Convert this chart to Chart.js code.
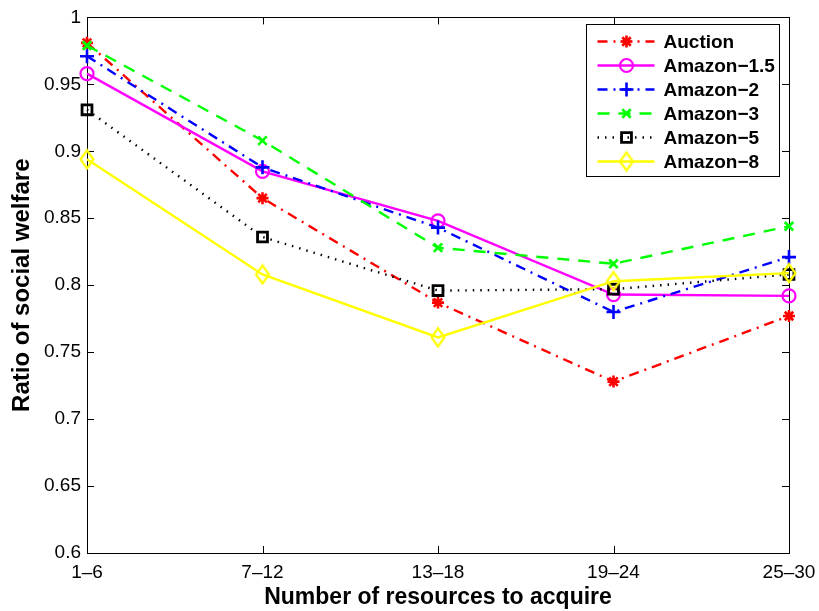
<!DOCTYPE html>
<html>
<head>
<meta charset="utf-8">
<script src="https://cdn.jsdelivr.net/npm/chart.js@4.4.1/dist/chart.umd.min.js"></script>
<style>
  html, body { margin: 0; padding: 0; background: #fff; }
  #wrap { width: 819px; height: 611px; }
</style>
</head>
<body>
<div id="wrap"><canvas id="c" width="819" height="611"></canvas></div>
<script>
// ---- data ----
const categories = ['1\u20136', '7\u201312', '13\u201318', '19\u201324', '25\u201330'];
const seriesNames = ['Auction', 'Amazon\u22121.5', 'Amazon\u22122', 'Amazon\u22123', 'Amazon\u22125', 'Amazon\u22128'];
const auction    = [0.981, 0.865, 0.787, 0.728, 0.777];
const amazon15   = [0.958, 0.885, 0.848, 0.793, 0.792];
const amazon2    = [0.971, 0.888, 0.843, 0.780, 0.821];
const amazon3    = [0.979, 0.908, 0.828, 0.816, 0.844];
const amazon5    = [0.931, 0.836, 0.796, 0.797, 0.808];
const amazon8    = [0.894, 0.808, 0.761, 0.803, 0.809];
const yMin = 0.6, yMax = 1.0, yStep = 0.05;
const xTitle = 'Number of resources to acquire';
const yTitle = 'Ratio of social welfare';

// ---- styles ----
const FONT = "'Liberation Sans', Arial, Helvetica, sans-serif";

// MATLAB-like narrow diamond marker
function makeDiamond(color) {
  const c = document.createElement('canvas');
  c.width = 18; c.height = 22;
  const g = c.getContext('2d');
  g.strokeStyle = color; g.lineWidth = 2.2;
  g.beginPath();
  g.moveTo(9, 2); g.lineTo(15.5, 11); g.lineTo(9, 20); g.lineTo(2.5, 11); g.closePath();
  g.stroke();
  return c;
}

const styles = [
  { color: '#ff0000', dash: [10, 6, 2, 6], point: 'star',     radius: 6,   pw: 2.6 },
  { color: '#ff00ff', dash: [],            point: 'circle',   radius: 6.5, pw: 2.2 },
  { color: '#0000ff', dash: [10, 6, 2, 6], point: 'cross',    radius: 7,   pw: 2.6 },
  { color: '#00ff00', dash: [12, 9],       point: 'crossRot', radius: 6,   pw: 2.6 },
  { color: '#000000', dash: [1.5, 6],      point: 'rect',     radius: 7,   pw: 2.8 },
  { color: '#ffff00', dash: [],            point: makeDiamond('#ffff00'), radius: 9, pw: 2.2 }
];
const allData = [auction, amazon15, amazon2, amazon3, amazon5, amazon8];

const datasets = allData.map((d, i) => ({
  label: seriesNames[i],
  data: d,
  borderColor: styles[i].color,
  backgroundColor: 'rgba(0,0,0,0)',
  borderWidth: 2.4,
  borderDash: styles[i].dash,
  pointStyle: styles[i].point,
  pointRadius: styles[i].radius,
  pointBorderWidth: styles[i].pw,
  pointBorderColor: styles[i].color,
  pointBackgroundColor: 'rgba(0,0,0,0)',
  tension: 0,
  clip: false,
  order: allData.length - 1 - i
}));

// box + inward ticks (MATLAB style)
const boxPlugin = {
  id: 'box',
  beforeDatasetsDraw(chart) {
    const { ctx, chartArea: a, scales } = chart;
    ctx.save();
    ctx.strokeStyle = '#000';
    ctx.lineWidth = 1;
    ctx.setLineDash([]);
    ctx.strokeRect(Math.round(a.left) + 0.5, Math.round(a.top) + 0.5,
                   Math.round(a.right - a.left), Math.round(a.bottom - a.top));
    const L = 7;
    ctx.beginPath();
    scales.y.ticks.forEach((t, i) => {
      const y = Math.round(scales.y.getPixelForTick(i)) + 0.5;
      ctx.moveTo(a.left, y); ctx.lineTo(a.left + L, y);
      ctx.moveTo(a.right, y); ctx.lineTo(a.right - L, y);
    });
    scales.x.ticks.forEach((t, i) => {
      const x = Math.round(scales.x.getPixelForTick(i)) + 0.5;
      ctx.moveTo(x, a.bottom); ctx.lineTo(x, a.bottom - L);
      ctx.moveTo(x, a.top); ctx.lineTo(x, a.top + L);
    });
    ctx.stroke();
    ctx.restore();
  }
};

// legend drawn inside the plot, top-right, with line samples + markers
const legendPlugin = {
  id: 'insideLegend',
  afterDraw(chart) {
    const { ctx, chartArea: a } = chart;
    const w = 193, rowH = 24;
    const h = 152;
    const x0 = Math.round(a.right - 10 - w) + 0.5;
    const y0 = Math.round(a.top + 7) + 0.5;
    ctx.save();
    ctx.fillStyle = '#fff';
    ctx.fillRect(x0, y0, w, h);
    ctx.strokeStyle = '#000';
    ctx.lineWidth = 1;
    ctx.setLineDash([]);
    ctx.strokeRect(x0, y0, w, h);
    chart.data.datasets.forEach((ds, i) => {
      const cy = y0 + 17 + i * rowH;
      ctx.save();
      ctx.strokeStyle = ds.borderColor;
      ctx.lineWidth = ds.borderWidth;
      ctx.setLineDash(ds.borderDash);
      ctx.beginPath();
      ctx.moveTo(x0 + 11, cy);
      ctx.lineTo(x0 + 68, cy);
      ctx.stroke();
      ctx.setLineDash([]);
      ctx.lineWidth = ds.pointBorderWidth;
      ctx.strokeStyle = ds.pointBorderColor;
      ctx.fillStyle = ds.pointBackgroundColor;
      Chart.helpers.drawPoint(ctx, { pointStyle: ds.pointStyle, radius: ds.pointRadius, borderWidth: ds.pointBorderWidth, rotation: 0 }, x0 + 40, cy);
      ctx.restore();
      ctx.fillStyle = '#000';
      ctx.font = 'bold 19px ' + FONT;
      ctx.textBaseline = 'middle';
      ctx.textAlign = 'left';
      ctx.fillText(ds.label, x0 + 77, cy + 1);
    });
    ctx.restore();
  }
};

new Chart(document.getElementById('c'), {
  type: 'line',
  data: { labels: categories, datasets },
  options: {
    responsive: false,
    devicePixelRatio: 1,
    animation: false,
    layout: { padding: { top: 15, right: 30, left: 0, bottom: 0 } },
    plugins: { legend: { display: false }, tooltip: { enabled: false } },
    scales: {
      x: {
        type: 'category',
        offset: false,
        grid: { display: false, drawTicks: false },
        border: { display: false },
        ticks: { color: '#000', font: { family: FONT, size: 19 }, padding: 8, autoSkip: false, maxRotation: 0, minRotation: 0 },
        title: { display: true, text: xTitle, color: '#000', font: { family: FONT, size: 23, weight: 'bold' }, padding: { top: 0, bottom: 0 } },
        afterFit(s) { s.height = 58; s.paddingRight = 0; s.paddingLeft = 0; }
      },
      y: {
        min: yMin, max: yMax,
        grid: { display: false, drawTicks: false },
        border: { display: false },
        ticks: {
          stepSize: yStep, color: '#000', font: { family: FONT, size: 19 }, padding: 6,
          callback: v => String(+v.toFixed(2))
        },
        title: { display: true, text: yTitle, color: '#000', font: { family: FONT, size: 24, weight: 'bold' }, padding: { top: 8, bottom: 0 } },
        afterFit(s) { s.width = 87; }
      }
    }
  },
  plugins: [boxPlugin, legendPlugin]
});
</script>
</body>
</html>
